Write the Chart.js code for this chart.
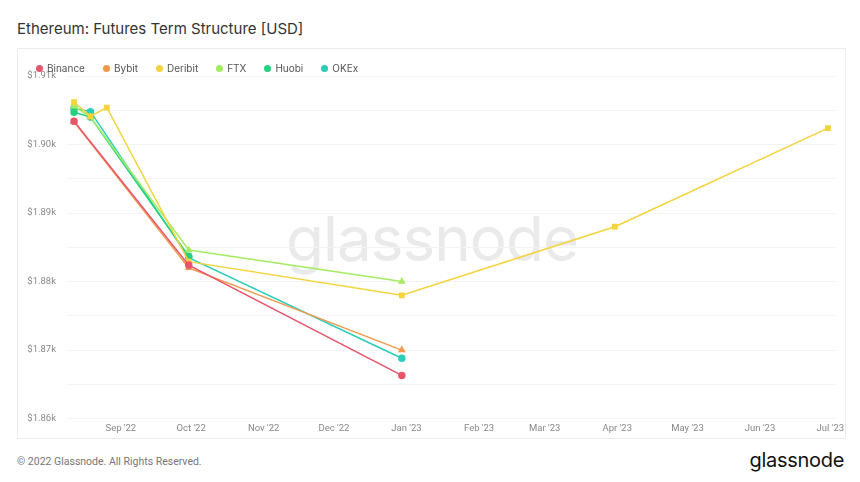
<!DOCTYPE html>
<html>
<head>
<meta charset="utf-8">
<script src="https://cdn.jsdelivr.net/npm/chart.js@4.4.0/dist/chart.umd.min.js"></script>
<style>
  body { margin: 0; width: 860px; height: 482px; background: #fff; font-family: Inter, "Noto Sans", sans-serif; position: relative; overflow: hidden; }
  #title { position: absolute; left: 17px; top: 19px; font-size: 15px; color: #333; font-weight: 400; }
  #panel { position: absolute; left: 17px; top: 48px; width: 827px; height: 389px; border: 1px solid #ebebeb; }
  #wm { position: absolute; left: 432px; top: 208px; transform: translateX(-50%); font-size: 62px; line-height: 62px; color: #eaeaea; letter-spacing: -1px; }
  #legend { position: absolute; left: 36px; top: 62px; display: flex; font-size: 10px; color: #555; }
  #legend span.item { display: flex; align-items: center; margin-right: 18px; }
  #legend i { display: inline-block; width: 7px; height: 7px; border-radius: 50%; margin-right: 4px; }
  #wrap { position: absolute; left: 17px; top: 48px; width: 843px; height: 390px; }
  #foot { position: absolute; left: 17px; top: 455px; font-family: Roboto, sans-serif; font-size: 10.5px; color: #777; }
  #logo { position: absolute; right: 16px; top: 448px; font-size: 20px; color: #111; letter-spacing: -0.3px; }
</style>
</head>
<body>
<div id="title">Ethereum: Futures Term Structure [USD]</div>
<div id="panel"></div>
<div id="wm">glassnode</div>
<div id="wrap"><canvas id="termChart"></canvas></div>
<div id="legend"></div>
<div id="foot">© 2022 Glassnode. All Rights Reserved.</div>
<div id="logo">glassnode</div>
<script>
// Expiry dates shared by all exchanges (null = no contract shown)
const expiries = ['2022-08-12', '2022-08-19', '2022-08-26', '2022-09-30', '2022-12-30', '2023-03-31', '2023-06-30'];
const exchanges = ['Binance', 'Bybit', 'Deribit', 'FTX', 'Huobi', 'OKEx'];
const colors = ['#e8546b', '#f0994c', '#f5d33c', '#a6ec62', '#25d07f', '#2bcdb8'];
const pointStyles = ['circle', 'triangle', 'rect', 'triangle', 'circle', 'circle'];

const binance = [1903.4, null, null, 1882.4, 1866.3, null, null];
const bybit   = [1903.3, null, null, 1882.0, 1870.0, null, null];
const deribit = [1906.2, 1904.1, 1905.4, 1882.9, 1878.0, 1888.0, 1902.4];
const ftx     = [1905.6, 1904.0, null, 1884.6, 1880.0, null, null];
const huobi   = [1904.7, 1904.0, null, 1883.7, null, null, null];
const okex    = [1905.3, 1904.8, null, 1883.5, 1868.8, null, null];

const monthTicks = ['2022-09-01', '2022-10-01', '2022-11-01', '2022-12-01', '2023-01-01', '2023-02-01',
                    '2023-03-01', '2023-04-01', '2023-05-01', '2023-06-01', '2023-07-01'];
const monthLabels = ["Sep '22", "Oct '22", "Nov '22", "Dec '22", "Jan '23", "Feb '23",
                     "Mar '23", "Apr '23", "May '23", "Jun '23", "Jul '23"];
const yTicks = [1860, 1865, 1870, 1875, 1880, 1885, 1890, 1895, 1900, 1905, 1910];
const yTickLabels = ['$1.86k', '', '$1.87k', '', '$1.88k', '', '$1.89k', '', '$1.90k', '', '$1.91k'];

// days since 2022-09-01
const dayOf = s => (Date.parse(s) - Date.parse('2022-09-01')) / 86400000;

const seriesValues = [binance, bybit, deribit, ftx, huobi, okex];
const datasets = exchanges.map((name, i) => ({
    label: name,
    data: expiries.map((d, j) => ({ x: dayOf(d), y: seriesValues[i][j] })).filter(p => p.y !== null),
    borderColor: colors[i],
    backgroundColor: colors[i],
    pointBackgroundColor: colors[i],
    pointBorderColor: colors[i],
    pointStyle: pointStyles[i],
    pointRadius: 3,
    borderWidth: 1.5,
    tension: 0
}));

const ctx = document.getElementById('termChart').getContext('2d');
const termChart = new Chart(ctx, {
    type: 'line',
    data: { datasets: datasets },
    options: {
        responsive: true,
        maintainAspectRatio: false,
        animation: false,
        layout: { padding: { top: 28, right: 25, bottom: 0, left: 0 } },
        plugins: { legend: { display: false }, tooltip: { enabled: false } },
        scales: {
            x: {
                type: 'linear',
                min: dayOf('2022-08-09'),
                max: dayOf('2023-07-03'),
                afterBuildTicks: scale => { scale.ticks = monthTicks.map(d => ({ value: dayOf(d) })); },
                ticks: {
                    autoSkip: false, maxRotation: 0, padding: 4,
                    color: '#888', font: { family: 'Roboto', size: 9.5 },
                    callback: (v, i) => monthLabels[i]
                },
                grid: { display: false, drawTicks: false },
                border: { display: false }
            },
            y: {
                min: 1860,
                max: 1910,
                afterBuildTicks: scale => { scale.ticks = yTicks.map(v => ({ value: v })); },
                afterFit: scale => { scale.width = 50; },
                ticks: {
                    padding: 11, color: '#888', font: { family: 'Roboto', size: 9.5 },
                    callback: (v, i) => yTickLabels[i]
                },
                grid: { color: '#f3f3f3', drawTicks: false },
                border: { display: false }
            }
        }
    }
});

// Legend
const legend = document.getElementById('legend');
exchanges.forEach((name, i) => {
    const item = document.createElement('span');
    item.className = 'item';
    item.innerHTML = '<i style="background:' + colors[i] + '"></i>' + name;
    legend.appendChild(item);
});
</script>
</body>
</html>
